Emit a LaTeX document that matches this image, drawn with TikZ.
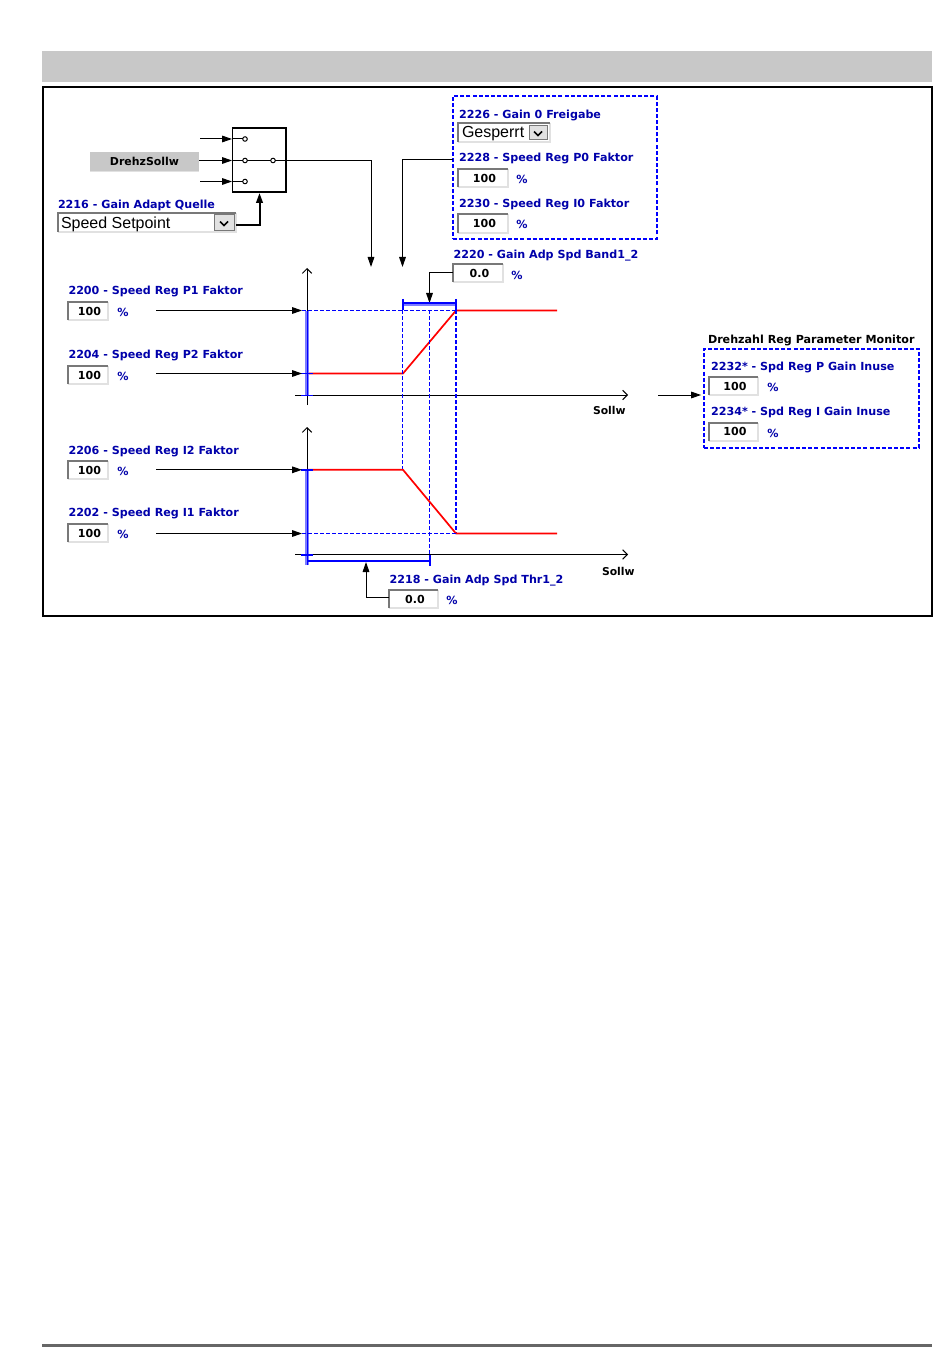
\documentclass[tikz,border=0pt]{standalone}
\usepackage{fontspec}
\setmainfont{DejaVu Sans}
\newfontfamily\arialfont{Liberation Sans}
\usetikzlibrary{arrows.meta,calc}
\definecolor{lblue}{RGB}{0,0,170}
\definecolor{dashblue}{RGB}{0,0,255}
\definecolor{paleblue}{RGB}{125,125,255}
\definecolor{panelgray}{RGB}{200,200,200}
\definecolor{bdark}{RGB}{120,120,120}
\definecolor{blight}{RGB}{225,225,225}
\tikzset{
  every node/.style={outer sep=0pt},
  px/.style={line width=#1*0.75pt},
  lab/.style={font=\bfseries\fontsize{8.35}{9}\selectfont,text=lblue,anchor=west,inner sep=0pt},
  blk/.style={font=\bfseries\fontsize{8.1}{9}\selectfont,text=black,anchor=west,inner sep=0pt},
  pct/.style={font=\bfseries\fontsize{8.4}{9}\selectfont,text=lblue,anchor=center,inner sep=0pt},
  val/.style={font=\bfseries\fontsize{8.3}{9}\selectfont,text=black,inner sep=0pt},
  conn/.style={draw=black,px=1,-{Triangle[length=7.5pt,width=5pt]}},
  thick conn/.style={draw=black,px=2,-{Triangle[length=7.5pt,width=5pt]}},
  axis/.style={draw=black,px=1,-{Straight Barb[length=3.5pt,width=7pt]}},
  dbox/.style={draw=dashblue,px=2,dash pattern=on 3pt off 1.6pt,fill=none},
  dline/.style={draw=dashblue,px=1.7,dash pattern=on 3pt off 1.5pt},
  redl/.style={draw=red,px=1.7},
  bluel/.style={draw=dashblue,px=1.6},
  palel/.style={draw=paleblue,px=3.4},
  term/.style={circle,draw=black,fill=white,px=1,minimum size=3.4pt,inner sep=0pt},
}
% name, left, top, right, bottom: sunken field
\newcommand{\sunken}[6]{%
  \node[val,fill=white,draw=none,minimum width=#4*0.75pt-#2*0.75pt,minimum height=#5*0.75pt-#3*0.75pt,anchor=north west] (#1) at (#2,#3) {\kern2.2pt\raisebox{-0.6pt}{#6}};
  \draw[blight,px=2] (#2,#5) -- (#4,#5) -- (#4,#3);
  \draw[bdark,px=2] (#2,#5) -- (#2,#3) -- (#4,#3);
}
\newcommand{\dropbtn}[5]{%
  \node[fill=blight,draw=bdark,px=1,inner sep=0pt,minimum width=#4*0.75pt-#2*0.75pt,minimum height=#5*0.75pt-#3*0.75pt,anchor=north west] (#1) at (#2,#3) {};
  \draw[black,px=1.6] ($(#1.center)+(-4,-1.5)$) -- ($(#1.center)+(0,2.5)$) -- ($(#1.center)+(4,-1.5)$);
}
\begin{document}
\begin{tikzpicture}[x=0.75pt,y=-0.75pt]
\useasboundingbox (0,0) rectangle (950,1369);
\fill[white] (0,0) rectangle (950,1369);
% header and footer
\node[fill=panelgray,draw=none,inner sep=0pt,minimum width=890*0.75pt,minimum height=31*0.75pt,anchor=north west] (header) at (42,51) {};
\draw[draw=black!60,px=3] (42,1345.5) -- (932,1345.5);
\node[draw=black,px=2,fill=white,inner sep=0pt,minimum width=889*0.75pt,minimum height=529*0.75pt,anchor=north west] (frame) at (43,87) {};

% switch
\node[draw=black,px=1.1,fill=white,inner sep=0pt,minimum width=54*0.75pt,minimum height=64*0.75pt,anchor=north west] (sw) at (232.5,128) {};
\draw[black,px=2] (286.3,128) -- (286.3,192);
\node[fill=panelgray,inner sep=0pt,minimum width=109*0.75pt,minimum height=19*0.75pt,anchor=north west,font=\bfseries\fontsize{8.2}{9}\selectfont] (drehz) at (90,152) {DrehzSollw};
\draw[blight,px=1] (90,171.5) -- (199,171.5);
\coordinate (in1) at (200,139);
\coordinate (in3) at (200,181.5);
\node[term] (t1) at (245,139) {};
\node[term] (t2) at (245,160.5) {};
\node[term] (t3) at (245,181.5) {};
\node[term] (t4) at (273,160.5) {};
\draw[black,px=1] (232,139) -- (t1) (232,160.5) -- (t2) (232,181.5) -- (t3) (t2) -- (t4);
\draw[conn] (in1) -- (232,139);
\draw[conn] (drehz.east |- t2) -- (232,160.5);
\draw[conn] (in3) -- (232,181.5);

% 2216
\node[lab] (l2216) at (58,205.2) {2216 - Gain Adapt Quelle};
\sunken{dd2216}{58}{213}{236}{232}{}
\node[anchor=west,inner sep=0pt,font=\arialfont\fontsize{12}{13}\selectfont] (sp) at (61,224.5) {Speed Setpoint};
\dropbtn{btn2216}{214}{215}{234}{231}
\draw[thick conn] ($(dd2216.east)+(0,2.5)$) -- (259.5,225) -- (259.5,193);

% arrows to plot
\coordinate (swdown) at (371,267);
\draw[conn] (t4) -- (371,160.5) -- (swdown);
\coordinate (gdown) at (402.5,267);

% 2226 box
\node[dbox,inner sep=0pt,minimum width=204*0.75pt,minimum height=143*0.75pt,anchor=north west] (box1) at (453,96) {};
\node[lab] (l2226) at (459,115.2) {2226 - Gain 0 Freigabe};
\sunken{dd2226}{458}{123}{550}{142}{}
\node[anchor=west,inner sep=0pt,font=\arialfont\fontsize{12}{13}\selectfont] (gs) at (462,134) {Gesperrt};
\dropbtn{btn2226}{529}{126}{547}{140}
\node[lab] (l2228) at (459,158.2) {2228 - Speed Reg P0 Faktor};
\sunken{v2228}{458}{169}{508}{187}{100}
\node[pct] at (522,179) {\%};
\node[lab] (l2230) at (459,204.2) {2230 - Speed Reg I0 Faktor};
\sunken{v2230}{458}{214.5}{508}{233}{100}
\node[pct] at (522,224.5) {\%};
\draw[conn] (box1.west |- 0,160) -- (402.5,160) -- (gdown);

% 2220
\node[lab] (l2220) at (453.5,255.2) {2220 - Gain Adp Spd Band1\_2};
\sunken{v2220}{453}{264}{503}{282}{0.0}
\node[pct] at (517,275.5) {\%};
\draw[conn] (v2220.west) -- (429.5,273) -- (429.5,303);

% upper plot
\coordinate (ua) at (307,268);
\coordinate (ub) at (307,405);
\draw[axis] (ub) -- (ua);
\draw[axis] (295,395) -- (628,395);
\draw[redl] (307,373.5) -- (403,373.5) -- (456,310.5) -- (557,310.5);
\draw[palel] (307,311) -- (307,395);
\draw[dashblue,px=1] (307,311) -- (307,395);
\draw[bluel] (301,395.5) -- (313,395.5);
\draw[bluel] (301,373.5) -- (313,373.5);
\draw[dline] (302,310.5) -- (456,310.5);
\draw[dline] (402.5,304) -- (402.5,469);
\draw[dline] (429.5,310) -- (429.5,556);
\draw[dline] (456,304) -- (456,533);
\draw[paleblue,px=3] (403,304.5) -- (456,304.5);
\draw[bluel] (403,299) -- (403,310) (456,299) -- (456,310) (403,303) -- (456,303);
\node[blk] (s1) at (593,410.2) {Sollw};

% lower plot
\coordinate (la) at (307,427);
\coordinate (lb) at (307,565);
\draw[axis] (lb) -- (la);
\draw[axis] (295,554.5) -- (628,554.5);
\draw[redl] (307,469.8) -- (403,469.8) -- (456,533.5) -- (557,533.5);
\draw[palel] (307,470) -- (307,565);
\draw[dashblue,px=1] (307,470) -- (307,565);
\draw[bluel] (301,469.8) -- (313,469.8);
\draw[bluel] (301,555) -- (313,555);
\draw[dline] (302,533.5) -- (456,533.5);
\draw[bluel] (307,561) -- (430,561) (430,555) -- (430,566);
\node[blk] (s2) at (602,571.2) {Sollw};

% inputs
\node[lab] (l2200) at (68.5,291.5) {2200 - Speed Reg P1 Faktor};
\sunken{v2200}{68}{302}{108}{320}{100}
\node[pct] at (123,312) {\%};
\node[lab] (l2204) at (68.5,355.8) {2204 - Speed Reg P2 Faktor};
\sunken{v2204}{68}{366}{108}{384}{100}
\node[pct] at (123,376) {\%};
\node[lab] (l2206) at (68.5,451.5) {2206 - Speed Reg I2 Faktor};
\sunken{v2206}{68}{461}{108}{479}{100}
\node[pct] at (123,471.5) {\%};
\node[lab] (l2202) at (68.5,513.8) {2202 - Speed Reg I1 Faktor};
\sunken{v2202}{68}{524}{108}{542}{100}
\node[pct] at (123,534) {\%};
\coordinate (c1) at (156,310.5);
\coordinate (c2) at (156,373.5);
\coordinate (c3) at (156,469.8);
\coordinate (c4) at (156,533.5);
\draw[conn] (c1) -- (302,310.5);
\draw[conn] (c2) -- (302,373.5);
\draw[conn] (c3) -- (302,469.8);
\draw[conn] (c4) -- (302,533.5);

% 2218
\node[lab] (l2218) at (389.5,580.2) {2218 - Gain Adp Spd Thr1\_2};
\sunken{v2218}{389}{590}{438}{608}{0.0}
\node[pct] at (452,600.5) {\%};
\draw[conn] ($(v2218.west)+(0,-2)$) -- (366,597) -- (366,562);

% monitor
\node[font=\bfseries\fontsize{8.35}{9}\selectfont,anchor=west,inner sep=0pt] (lmon) at (708,340) {Drehzahl Reg Parameter Monitor};
\node[dbox,inner sep=0pt,minimum width=215*0.75pt,minimum height=99*0.75pt,anchor=north west] (box2) at (704,348.5) {};
\node[lab] (l2232) at (711,367.2) {2232* - Spd Reg P Gain Inuse};
\sunken{v2232}{709}{377}{758}{395}{100}
\node[pct] at (773,387.5) {\%};
\node[lab] (l2234) at (711,412.7) {2234* - Spd Reg I Gain Inuse};
\sunken{v2234}{709}{422.5}{758}{441}{100}
\node[pct] at (773,433) {\%};
\coordinate (mon) at (658,395);
\draw[conn,shorten >=2.2pt] (mon) -- (box2.west |- mon);
\end{tikzpicture}
\end{document}
